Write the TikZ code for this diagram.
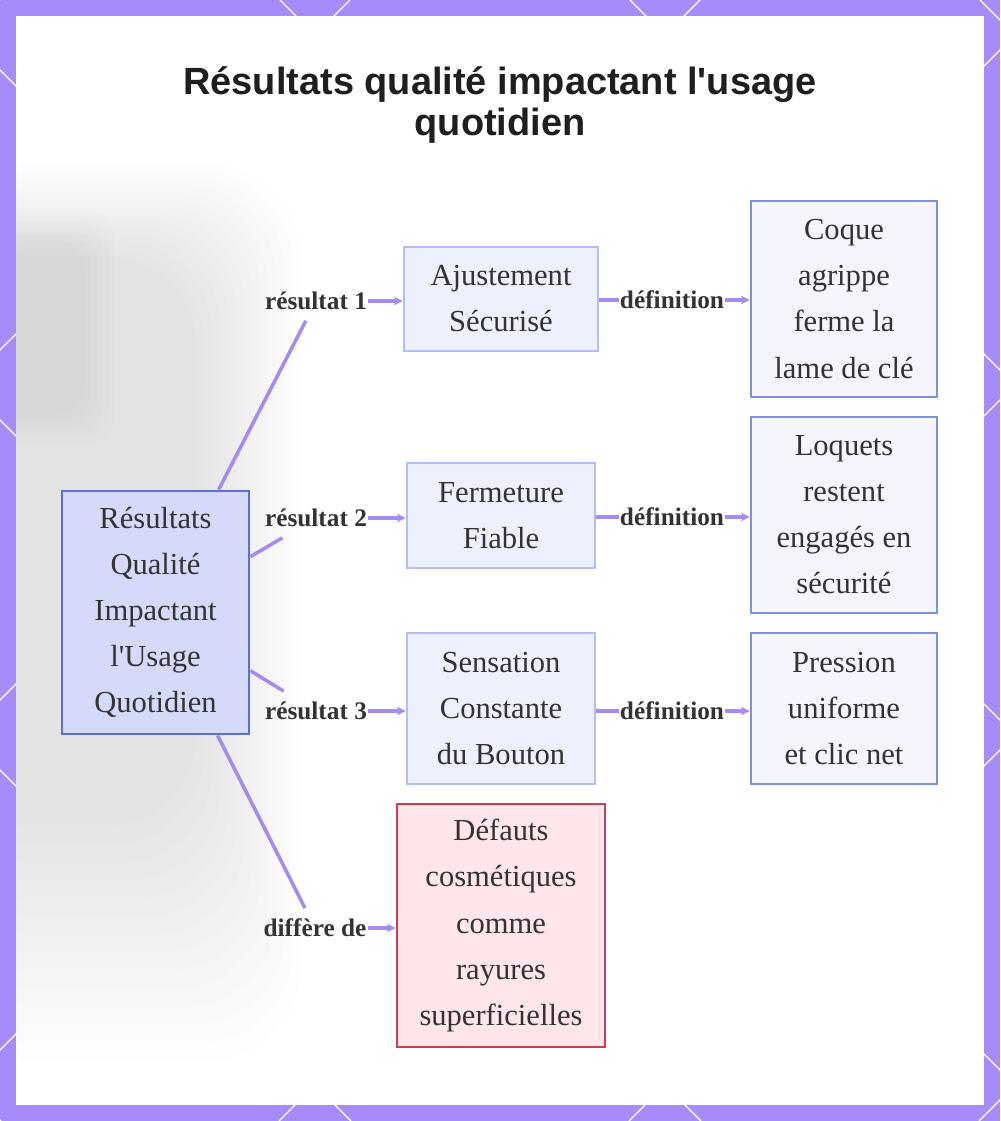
\documentclass[tikz,border=0pt]{standalone}
\usepackage{fontspec}
\setmainfont{Liberation Serif}
\newfontfamily\titlefont{Liberation Sans}
\usetikzlibrary{arrows.meta}

\definecolor{framec}{HTML}{A78BFA}
\definecolor{edgec}{HTML}{A48AF2}
\definecolor{rootfill}{HTML}{D5DAFB}
\definecolor{rootline}{HTML}{5C6FD8}
\definecolor{midfill}{HTML}{EEF0FD}
\definecolor{midline}{HTML}{B4BEF6}
\definecolor{leaffill}{HTML}{F4F5FD}
\definecolor{leafline}{HTML}{7D90E6}
\definecolor{warnfill}{HTML}{FFE6EA}
\definecolor{warnline}{HTML}{D23B50}
\definecolor{inkc}{HTML}{333333}

\tikzset{
  box/.style={draw, line width=1.6pt, align=center, text=inkc, inner sep=0pt,
    font=\fontsize{17.4}{26.2}\selectfont},
  rootbox/.style={box, fill=rootfill, draw=rootline},
  midbox/.style={box, fill=midfill, draw=midline},
  leafbox/.style={box, fill=leaffill, draw=leafline},
  warnbox/.style={box, fill=warnfill, draw=warnline},
  elabel/.style={font=\fontsize{14.4}{17}\selectfont\bfseries, text=inkc,
    inner xsep=0.5pt, inner ysep=6pt},
  link/.style={draw=edgec, line width=2pt},
  arrow/.style={link, -{Stealth[length=5pt,width=5pt]}}
}

\begin{document}
\begin{tikzpicture}[x=0.02cm, y=-0.02cm]
  \useasboundingbox (0,0) rectangle (1000,1121);
  % frame with lattice
  \fill[framec] (0,0) rectangle (1000,1121);
  \begin{scope}
    \clip (0,0) rectangle (1000,1121);
    \foreach \c in {-1120,-770,...,980}
      \draw[white, line width=0.7pt] ({\c},0) -- ({\c+1121},1121);
    \foreach \s in {0,350,...,2100}
      \draw[white, line width=0.7pt] ({\s},0) -- ({\s-1121},1121);
  \end{scope}
  \fill[white] (16,16) rectangle (984,1105);
  % blurred backdrop
  \begin{scope}
    \clip (16,16) rectangle (984,1105);
    \foreach \i in {0,...,13}
      \fill[black, opacity=0.006, rounded corners=1.8cm]
        (-60,{165+7*\i}) rectangle ({300-8*\i},{1060-18*\i});
    \foreach \i in {0,...,5}
      \fill[black, opacity=0.007, rounded corners=0.6cm]
        (-20,{210+6*\i}) rectangle ({115-6*\i},{445-6*\i});
  \end{scope}

  % title
  \node[font=\titlefont\bfseries\fontsize{21.6}{23.4}\selectfont, text=black!88,
    align=center] (title) at (500,105)
    {Résultats qualité impactant l\textquotesingle usage\\quotidien};

  % boxes
  \node[rootbox, minimum width=3.74cm, minimum height=4.86cm] (root) at (155.5,612.5)
    {Résultats\\Qualité\\Impactant\\l\textquotesingle Usage\\Quotidien};
  \node[midbox, minimum width=3.88cm, minimum height=2.08cm] (ajust) at (501,299)
    {Ajustement\\Sécurisé};
  \node[midbox, minimum width=3.76cm, minimum height=2.1cm] (ferm) at (501,515.5)
    {Fermeture\\Fiable};
  \node[midbox, minimum width=3.76cm, minimum height=3.02cm] (sens) at (501,708.5)
    {Sensation\\Constante\\du Bouton};
  \node[leafbox, minimum width=3.72cm, minimum height=3.92cm] (coque) at (844,299)
    {Coque\\agrippe\\ferme la\\lame de clé};
  \node[leafbox, minimum width=3.72cm, minimum height=3.92cm] (loq) at (844,515)
    {Loquets\\restent\\engagés en\\sécurité};
  \node[leafbox, minimum width=3.72cm, minimum height=3.02cm] (press) at (844,708.5)
    {Pression\\uniforme\\et clic net};
  \node[warnbox, minimum width=4.16cm, minimum height=4.86cm] (defauts) at (501,925.5)
    {Défauts\\cosmétiques\\comme\\rayures\\superficielles};

  % edge labels
  \node[elabel] (r1) at (316,301) {résultat 1};
  \node[elabel] (r2) at (316,518) {résultat 2};
  \node[elabel] (r3) at (316,711) {résultat 3};
  \node[elabel] (r4) at (315,928) {diffère de};
  \node[elabel] (d1) at (672,300) {définition};
  \node[elabel] (d2) at (672,517) {définition};
  \node[elabel] (d3) at (672,711) {définition};

  % connectors
  \draw[link] (root) -- (r1);
  \draw[arrow] (r1.east) -- (r1.east -| ajust.west);
  \draw[link] (root) -- (r2);
  \draw[arrow] (r2.east) -- (r2.east -| ferm.west);
  \draw[link] (root) -- (r3);
  \draw[arrow] (r3.east) -- (r3.east -| sens.west);
  \draw[link] (root) -- (r4);
  \draw[arrow] (r4.east) -- (r4.east -| defauts.west);
  \draw[link] (d1.west -| ajust.east) -- (d1.west);
  \draw[arrow] (d1.east) -- (d1.east -| coque.west);
  \draw[link] (d2.west -| ferm.east) -- (d2.west);
  \draw[arrow] (d2.east) -- (d2.east -| loq.west);
  \draw[link] (d3.west -| sens.east) -- (d3.west);
  \draw[arrow] (d3.east) -- (d3.east -| press.west);
\end{tikzpicture}
\end{document}
